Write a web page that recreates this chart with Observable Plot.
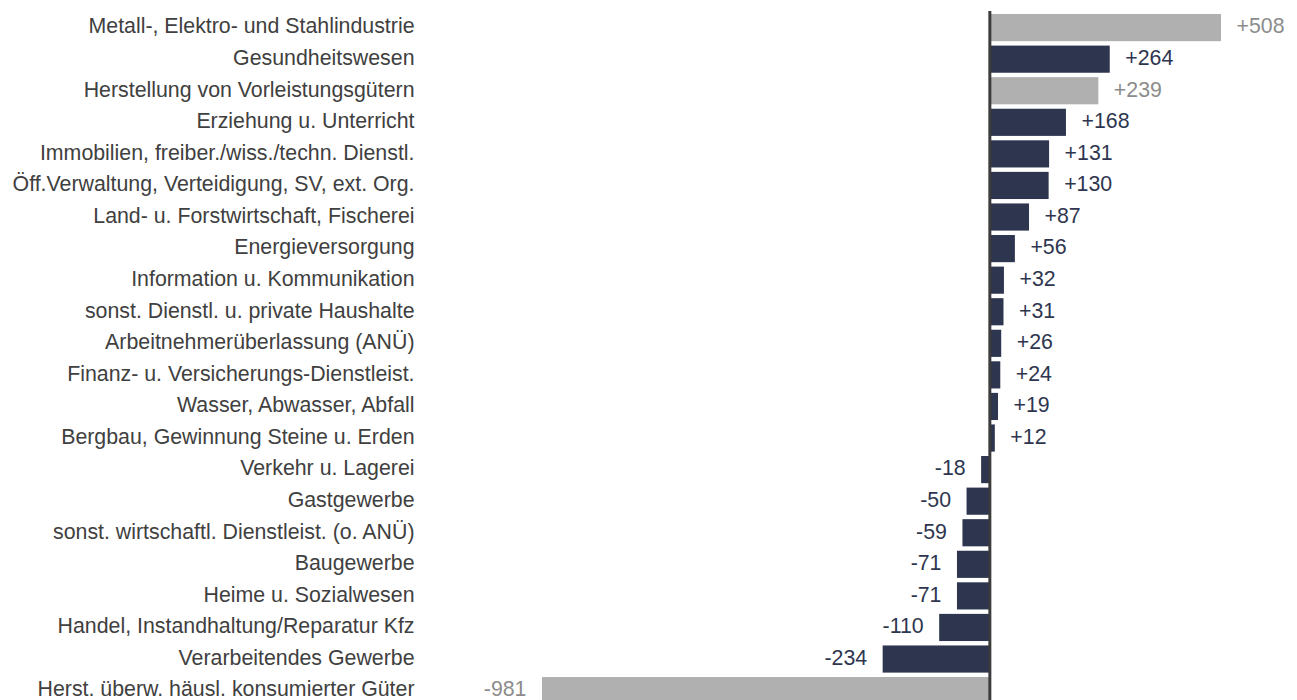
<!DOCTYPE html>
<html>
<head>
<meta charset="utf-8">
<script src="https://cdn.jsdelivr.net/npm/d3@7"></script>
<script src="https://cdn.jsdelivr.net/npm/@observablehq/plot@0.6"></script>
<style>
  html, body { margin: 0; padding: 0; background: #fff; }
  #chart { width: 1297px; height: 700px; overflow: hidden; }
</style>
</head>
<body>
<div id="chart"></div>
<script>
const categories = [
  "Metall-, Elektro- und Stahlindustrie",
  "Gesundheitswesen",
  "Herstellung von Vorleistungsgütern",
  "Erziehung u. Unterricht",
  "Immobilien, freiber./wiss./techn. Dienstl.",
  "Öff.Verwaltung, Verteidigung, SV, ext. Org.",
  "Land- u. Forstwirtschaft, Fischerei",
  "Energieversorgung",
  "Information u. Kommunikation",
  "sonst. Dienstl. u. private Haushalte",
  "Arbeitnehmerüberlassung (ANÜ)",
  "Finanz- u. Versicherungs-Dienstleist.",
  "Wasser, Abwasser, Abfall",
  "Bergbau, Gewinnung Steine u. Erden",
  "Verkehr u. Lagerei",
  "Gastgewerbe",
  "sonst. wirtschaftl. Dienstleist. (o. ANÜ)",
  "Baugewerbe",
  "Heime u. Sozialwesen",
  "Handel, Instandhaltung/Reparatur Kfz",
  "Verarbeitendes Gewerbe",
  "Herst. überw. häusl. konsumierter Güter"
];
const values = [508, 264, 239, 168, 131, 130, 87, 56, 32, 31, 26, 24, 19, 12, -18, -50, -59, -71, -71, -110, -234, -981];
const greyCategories = [
  "Metall-, Elektro- und Stahlindustrie",
  "Herstellung von Vorleistungsgütern",
  "Herst. überw. häusl. konsumierter Güter"
];

const NAVY = "#2e364f";
const GREY = "#b0b0b0";
const GREY_TEXT = "#8c8c8c";
const LABEL = "#404040";
const FS = 21.33;

const data = categories.map((name, i) => ({
  name,
  value: values[i],
  grey: greyCategories.includes(name)
}));
const fmt = v => (v > 0 ? "+" : "") + v;

const chart = Plot.plot({
  width: 1297,
  height: 700,
  marginLeft: 542,
  marginRight: 76,
  marginTop: 11,
  marginBottom: 0,
  style: { fontFamily: "'Liberation Sans', Arial, sans-serif", fontSize: FS + "px", background: "#fff", overflow: "hidden" },
  x: { domain: [-981, 508], axis: null },
  y: { domain: categories, range: [9.6, 708.6], padding: 0.14, round: false, axis: null },
  marks: [
    Plot.barX(data, { x: "value", y: "name", fill: d => d.grey ? GREY : NAVY }),
    Plot.ruleX([0], { stroke: "#3c3c3c", strokeWidth: 3 }),
    Plot.axisY({ tickSize: 0, tickPadding: 128, fontSize: FS, color: LABEL, label: null, dy: -1.5 }),
    Plot.text(data.filter(d => d.value > 0), {
      x: "value", y: "name", text: d => fmt(d.value), textAnchor: "start", dx: 15, dy: -1.5,
      fill: d => d.grey ? GREY_TEXT : NAVY, fontSize: FS
    }),
    Plot.text(data.filter(d => d.value < 0), {
      x: "value", y: "name", text: d => fmt(d.value), textAnchor: "end", dx: -16, dy: -1.5,
      fill: d => d.grey ? GREY_TEXT : NAVY, fontSize: FS
    })
  ]
});
document.getElementById("chart").appendChild(chart);
</script>
</body>
</html>
